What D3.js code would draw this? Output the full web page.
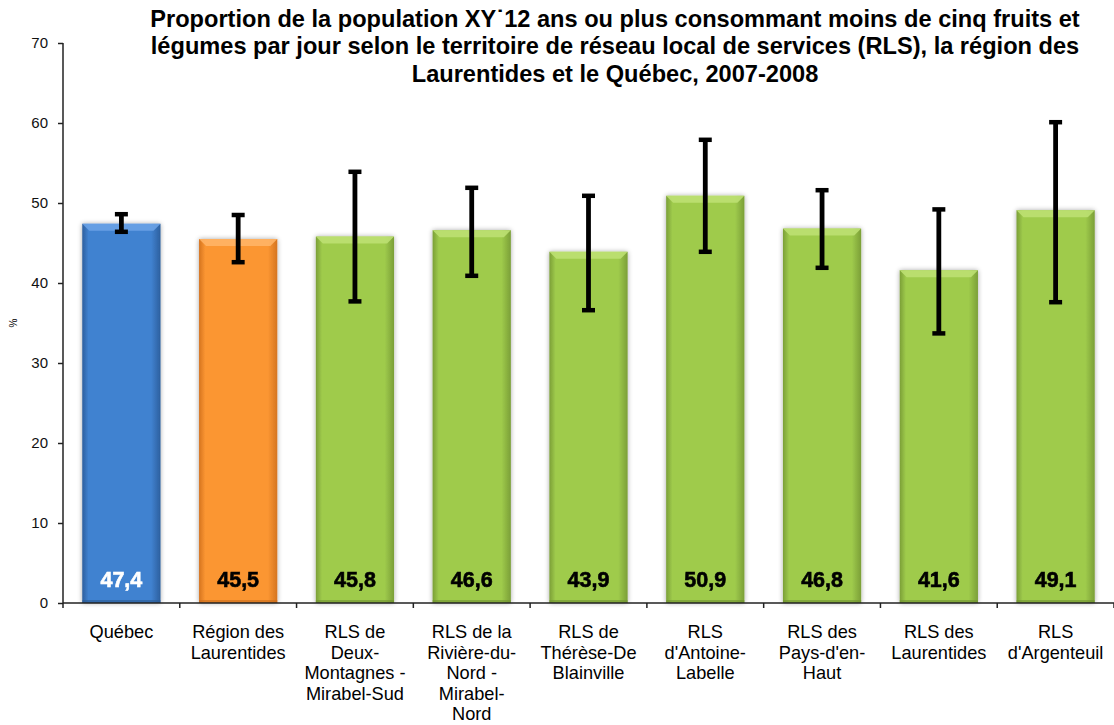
<!DOCTYPE html>
<html>
<head>
<meta charset="utf-8">
<script src="https://cdn.jsdelivr.net/npm/d3@7"></script>
<style>
html,body{margin:0;padding:0;background:#fff;}
svg{display:block;}
</style>
</head>
<body>
<svg id="chart" width="1114" height="725"></svg>
<script>
const categories = [
  ["Québec"],
  ["Région des", "Laurentides"],
  ["RLS de", "Deux-", "Montagnes -", "Mirabel-Sud"],
  ["RLS de la", "Rivière-du-", "Nord -", "Mirabel-", "Nord"],
  ["RLS de", "Thérèse-De", "Blainville"],
  ["RLS", "d'Antoine-", "Labelle"],
  ["RLS des", "Pays-d'en-", "Haut"],
  ["RLS des", "Laurentides"],
  ["RLS", "d'Argenteuil"]
];
const values = [47.4, 45.5, 45.8, 46.6, 43.9, 50.9, 46.8, 41.6, 49.1];
const ciLow  = [46.4, 42.6, 37.7, 40.9, 36.6, 43.9, 41.9, 33.7, 37.6];
const ciHigh = [48.6, 48.5, 53.9, 51.9, 50.9, 57.9, 51.6, 49.2, 60.1];
const valueLabels = ["47,4", "45,5", "45,8", "46,6", "43,9", "50,9", "46,8", "41,6", "49,1"];
const barGroups = ["quebec", "region", "rls", "rls", "rls", "rls", "rls", "rls", "rls"];
const yTicks = [0, 10, 20, 30, 40, 50, 60, 70];
const titleLines = [
  "Proportion de la population XY˙12 ans ou plus consommant moins de cinq fruits et",
  "légumes par jour selon le territoire de réseau local de services (RLS), la région des",
  "Laurentides et le Québec, 2007-2008"
];

const svg = d3.select("#chart");
const pLeft = 63, pRight = 1114, pTop = 43, pBottom = 603;

const x = d3.scaleBand().domain(d3.range(values.length)).range([pLeft, pRight])
  .paddingInner(0.33).paddingOuter(0.165);
const y = d3.scaleLinear().domain([0, 70]).range([pBottom, pTop]);

const palette = {
  quebec: {mid: "#4182d0", edge: "#2c5f9e", top: "#6aa2e6", bottom: "#2b5a93"},
  region: {mid: "#fb9632", edge: "#d5741f", top: "#ffb466", bottom: "#c86a1a"},
  rls:    {mid: "#9fcb4c", edge: "#7b9f37", top: "#bde072", bottom: "#6f9130"}
};

const defs = svg.append("defs");
Object.entries(palette).forEach(([k, c]) => {
  const g = defs.append("linearGradient").attr("id", "grad-" + k)
    .attr("x1", "0").attr("x2", "1").attr("y1", "0").attr("y2", "0");
  g.append("stop").attr("offset", "0").attr("stop-color", c.edge);
  g.append("stop").attr("offset", "0.08").attr("stop-color", c.mid);
  g.append("stop").attr("offset", "0.88").attr("stop-color", c.mid);
  g.append("stop").attr("offset", "1").attr("stop-color", c.edge);
});
const sh = defs.append("filter").attr("id", "shadow").attr("x", "-20%").attr("y", "-20%")
  .attr("width", "140%").attr("height", "140%");
sh.append("feGaussianBlur").attr("in", "SourceAlpha").attr("stdDeviation", 2.5).attr("result", "b");
sh.append("feOffset").attr("in", "b").attr("dx", 0).attr("dy", 0).attr("result", "o");
sh.append("feComponentTransfer").attr("in", "o").attr("result", "t")
  .append("feFuncA").attr("type", "linear").attr("slope", 0.35);
const m = sh.append("feMerge");
m.append("feMergeNode").attr("in", "t");
m.append("feMergeNode").attr("in", "SourceGraphic");

const ts = defs.append("filter").attr("id", "txtglow").attr("x", "-20%").attr("y", "-30%")
  .attr("width", "140%").attr("height", "160%");
ts.append("feGaussianBlur").attr("in", "SourceGraphic").attr("stdDeviation", 0.6);

// Title
svg.append("g").selectAll("text").data(titleLines).join("text")
  .attr("x", 615).attr("y", (d, i) => 27 + i * 27.3)
  .attr("text-anchor", "middle")
  .attr("font-family", "Liberation Sans, Arial, sans-serif")
  .attr("font-weight", "bold").attr("font-size", 23.6).attr("fill", "#000")
  .text(d => d);

// Bars
const bars = svg.append("g").selectAll("g").data(values).join("g");
bars.append("rect")
  .attr("x", (d, i) => x(i)).attr("width", x.bandwidth())
  .attr("y", d => y(d)).attr("height", d => y(0) - y(d))
  .attr("fill", (d, i) => `url(#grad-${barGroups[i]})`)
  .attr("filter", "url(#shadow)");
bars.append("path")
  .attr("d", (d, i) => {
    const x0 = x(i), x1 = x(i) + x.bandwidth(), yt = y(d), b = 7;
    return `M${x0},${yt}L${x1},${yt}L${x1 - b},${yt + b}L${x0 + b},${yt + b}Z`;
  })
  .attr("fill", (d, i) => palette[barGroups[i]].top).attr("opacity", 0.9);
bars.append("rect")
  .attr("x", (d, i) => x(i)).attr("width", x.bandwidth())
  .attr("y", y(0) - 3).attr("height", 3)
  .attr("fill", (d, i) => palette[barGroups[i]].bottom).attr("opacity", 0.6);

// Value labels
svg.append("g").selectAll("text").data(valueLabels).join("text")
  .attr("x", (d, i) => x(i) + x.bandwidth() / 2)
  .attr("y", y(0) - 16)
  .attr("text-anchor", "middle")
  .attr("font-family", "Liberation Sans, Arial, sans-serif")
  .attr("font-weight", "bold").attr("font-size", 21.5)
  .attr("stroke", (d, i) => i === 0 ? "#fff" : "#000").attr("stroke-width", 0.6)
  .attr("fill", (d, i) => i === 0 ? "#fff" : "#000")
  .attr("filter", "url(#txtglow)")
  .text(d => d);

// Error bars
const cx = i => x(i) + x.bandwidth() / 2;
const eb = svg.append("g").selectAll("g").data(values).join("g");
eb.append("line")
  .attr("x1", (d, i) => cx(i)).attr("x2", (d, i) => cx(i))
  .attr("y1", (d, i) => y(ciLow[i])).attr("y2", (d, i) => y(ciHigh[i]))
  .attr("stroke", "#000").attr("stroke-width", 4.8);
["low", "high"].forEach(k => {
  eb.append("line")
    .attr("x1", (d, i) => cx(i) - 6.5).attr("x2", (d, i) => cx(i) + 6.5)
    .attr("y1", (d, i) => y(k === "low" ? ciLow[i] : ciHigh[i]))
    .attr("y2", (d, i) => y(k === "low" ? ciLow[i] : ciHigh[i]))
    .attr("stroke", "#000").attr("stroke-width", 4.5);
});

// Y axis
const yAxis = svg.append("g").attr("transform", `translate(${pLeft},0)`)
  .call(d3.axisLeft(y).tickValues(yTicks).tickSize(5).tickPadding(10).tickFormat(d3.format("d")));
yAxis.select(".domain").attr("stroke", "#222").attr("stroke-width", 1.5).attr("d", `M0,${pTop}V${pBottom}`);
yAxis.selectAll(".tick line").attr("stroke", "#222").attr("stroke-width", 1.5);
yAxis.selectAll(".tick text").attr("font-family", "Liberation Sans, Arial, sans-serif")
  .attr("font-size", 15).attr("fill", "#111");

svg.append("text").attr("transform", `translate(17,${(pTop + pBottom) / 2}) rotate(-90)`)
  .attr("text-anchor", "middle").attr("font-family", "Liberation Sans, Arial, sans-serif")
  .attr("font-size", 10).attr("fill", "#000").text("%");

// X axis
const xAxis = svg.append("g").attr("transform", `translate(0,${pBottom})`)
  .call(d3.axisBottom(x).tickSize(0).tickFormat(""));
xAxis.select(".domain").attr("stroke", "#222").attr("stroke-width", 1.5).attr("d", `M${pLeft},0H${pRight}`);
const boundaries = d3.range(values.length + 1).map(i => x(0) - x.step() * x.paddingOuter() + i * x.step());
xAxis.selectAll(".bnd").data(boundaries).join("line").attr("class", "bnd")
  .attr("x1", d => d).attr("x2", d => d).attr("y1", 0).attr("y2", 5)
  .attr("stroke", "#222").attr("stroke-width", 1.5);

const labels = svg.append("g").selectAll("text").data(categories).join("text")
  .attr("text-anchor", "middle")
  .attr("font-family", "Liberation Sans, Arial, sans-serif")
  .attr("font-size", 18.2).attr("fill", "#000");
labels.each(function(lines, i) {
  d3.select(this).selectAll("tspan").data(lines).join("tspan")
    .attr("x", cx(i)).attr("y", (d, j) => 638 + j * 20.5).text(d => d);
});
</script>
</body>
</html>
